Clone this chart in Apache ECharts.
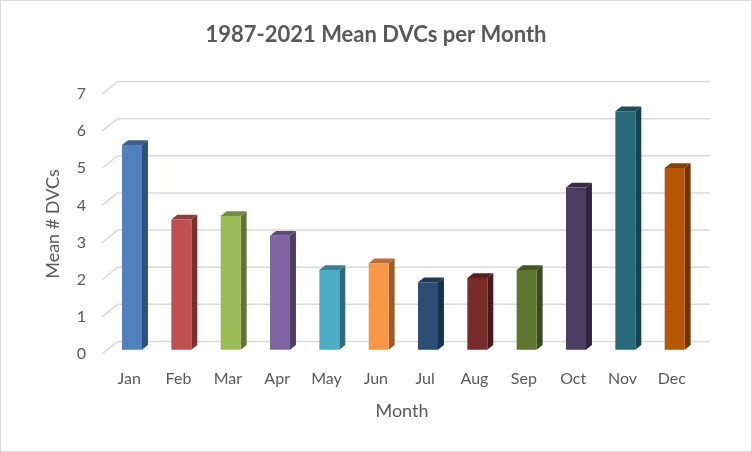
<!DOCTYPE html>
<html>
<head>
<meta charset="utf-8">
<script src="https://cdn.jsdelivr.net/npm/echarts@6/dist/echarts.min.js"></script>
<style>
  html, body { margin: 0; padding: 0; background: #fff; }
  #chart { width: 750px; height: 450px; border: 1px solid #d9d9d9; }
</style>
</head>
<body>
<div id="chart"></div>
<script>
// 月份
const months = ['Jan', 'Feb', 'Mar', 'Apr', 'May', 'Jun', 'Jul', 'Aug', 'Sep', 'Oct', 'Nov', 'Dec'];
// 每月平均 DVC 数
const meanDVCs = [5.51, 3.51, 3.60, 3.07, 2.15, 2.33, 1.82, 1.93, 2.15, 4.37, 6.42, 4.89];
// y 轴刻度
const yTicks = [0, 1, 2, 3, 4, 5, 6, 7];
// 每根柱子的颜色
const barColors = ['#4F81BD', '#C0504D', '#9BBB59', '#8064A2', '#4BACC6', '#F79646',
  '#2C4D75', '#772C2A', '#5F7530', '#4D3B62', '#276A7C', '#B65708'];

/* 3D 透视偏移（前墙 -> 后墙） */
const DEPTH_X = 15.7;
const DEPTH_Y = 12.5;
const BAR_FRONT = 0.34;   // 柱子正面所在深度
const BAR_DEPTH = 0.38;   // 柱子厚度

const textColor = '#595959';
const chart = echarts.init(document.getElementById('chart'));

// 颜色加深
function darken(c, k) {
  const a = echarts.color.parse(c);
  return 'rgb(' + Math.round(a[0] * k) + ',' + Math.round(a[1] * k) + ',' + Math.round(a[2] * k) + ')';
}

// 后墙网格线 + 左侧斜线
function renderGrid(params, api) {
  const cs = params.coordSys;
  const y = api.coord([0, api.value(1)])[1];
  const lineStyle = { stroke: '#d9d9d9', lineWidth: 1.5 };
  return {
    type: 'group',
    children: [{
      type: 'line',
      shape: { x1: cs.x, y1: y, x2: cs.x + DEPTH_X, y2: y - DEPTH_Y },
      style: lineStyle
    }, {
      type: 'line',
      shape: { x1: cs.x + DEPTH_X, y1: y - DEPTH_Y, x2: cs.x + cs.width + DEPTH_X, y2: y - DEPTH_Y },
      style: lineStyle
    }]
  };
}

// 3D 柱子：正面、侧面、顶面
function renderBar(params, api) {
  const idx = api.value(0);
  const base = api.coord([idx, 0]);
  const top = api.coord([idx, api.value(1)]);
  const bw = api.size([1, 0])[0] * 0.405;
  const ox = DEPTH_X * BAR_FRONT, oy = DEPTH_Y * BAR_FRONT;
  const dx = DEPTH_X * BAR_DEPTH, dy = DEPTH_Y * BAR_DEPTH;
  const x0 = base[0] + ox - bw / 2, x1 = x0 + bw;
  const yT = top[1] - oy, yB = base[1] - oy;
  const c = barColors[params.dataIndex];
  return {
    type: 'group',
    children: [{
      type: 'polygon',
      shape: { points: [[x1, yT], [x1 + dx, yT - dy], [x1 + dx, yB - dy], [x1, yB]] },
      style: { fill: darken(c, 0.62) }
    }, {
      type: 'polygon',
      shape: { points: [[x0, yT], [x0 + dx, yT - dy], [x1 + dx, yT - dy], [x1, yT]] },
      style: { fill: darken(c, 0.74) }
    }, {
      type: 'rect',
      shape: { x: x0, y: yT, width: bw, height: yB - yT },
      style: { fill: c }
    }]
  };
}

const option = {
  backgroundColor: '#fff',
  title: {
    text: '1987-2021 Mean DVCs per Month',
    left: 'center',
    top: 18,
    textStyle: { fontFamily: 'Lato', fontSize: 22, fontWeight: 'bold', color: textColor }
  },
  grid: { left: 101, right: 57, top: 93, bottom: 97 },
  xAxis: {
    type: 'category',
    data: months,
    name: 'Month',
    nameLocation: 'middle',
    nameGap: 48,
    nameTextStyle: { fontFamily: 'Lato', fontSize: 18, color: textColor, padding: [0, 0, 0, 8] },
    axisLine: { show: false },
    axisTick: { show: false },
    axisLabel: { fontFamily: 'Lato', fontSize: 16, color: textColor, margin: 17, padding: [0, 0, 0, 5] }
  },
  yAxis: {
    type: 'value',
    min: 0,
    max: 7,
    interval: 1,
    name: 'Mean # DVCs',
    nameLocation: 'middle',
    nameGap: 40,
    nameTextStyle: { fontFamily: 'Lato', fontSize: 18, color: textColor },
    axisLine: { show: false },
    axisTick: { show: false },
    splitLine: { show: false },
    axisLabel: { fontFamily: 'Lato', fontSize: 16, color: textColor, margin: 16, padding: [3, 0, 0, 0] }
  },
  series: [{
    type: 'custom',
    renderItem: renderGrid,
    data: yTicks.map(v => [0, v]),
    encode: { x: 0, y: 1 },
    silent: true,
    z: 1
  }, {
    type: 'custom',
    renderItem: renderBar,
    data: meanDVCs.map((v, i) => [i, v]),
    encode: { x: 0, y: 1 },
    z: 2
  }]
};

chart.setOption(option);
</script>
</body>
</html>
